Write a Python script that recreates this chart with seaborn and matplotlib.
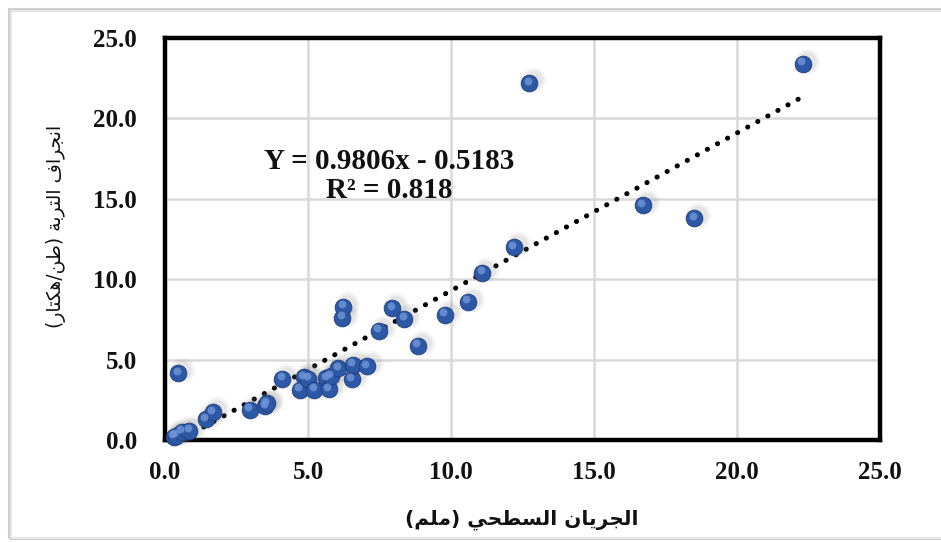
import matplotlib
matplotlib.use("Agg")
import matplotlib.pyplot as plt
import matplotlib.transforms as mtransforms
from matplotlib.patches import Rectangle
import seaborn as sns
import pandas as pd
import numpy as np

# ---------------- data ----------------
runoff = [0.30, 0.38, 0.58, 0.85, 1.43, 1.67, 2.97, 3.50, 3.55, 4.10,
          4.71, 4.86, 5.00, 5.21, 5.63, 5.73, 5.80, 6.06, 6.53, 6.56,
          7.06, 6.20, 6.24, 7.48, 7.95, 8.36, 8.83, 9.78, 10.58, 11.10,
          12.20, 12.73, 16.70, 18.50, 22.30, 0.47]
erosion = [0.20, 0.27, 0.52, 0.58, 1.29, 1.72, 1.87, 2.10, 2.30, 3.82,
           3.11, 3.90, 3.80, 3.11, 3.84, 3.15, 3.95, 4.46, 3.78, 4.67,
           4.60, 7.61, 8.30, 6.80, 8.19, 7.53, 5.85, 7.80, 8.61, 10.40,
           12.00, 22.20, 14.60, 13.80, 23.40, 4.15]
slope = 0.9806
intercept = -0.5183
r2 = 0.818
ticks = [0.0, 5.0, 10.0, 15.0, 20.0, 25.0]
xlabel_ar = "الجريان السطحي (ملم)"
ylabel_ar = "انجراف التربة (طن/هكتار)"
eq_text = "Y = 0.9806x - 0.5183\nR² = 0.818"

df = pd.DataFrame({"runoff": runoff, "erosion": erosion})

# ---------------- minimal Arabic shaping (presentation forms + visual order) ----------------
FORMS = {  # iso, fin, ini, med
    'ا': (0xFE8D, 0xFE8E, None, None),
    'ب': (0xFE8F, 0xFE90, 0xFE91, 0xFE92),
    'ة': (0xFE93, 0xFE94, None, None),
    'ت': (0xFE95, 0xFE96, 0xFE97, 0xFE98),
    'ج': (0xFE9D, 0xFE9E, 0xFE9F, 0xFEA0),
    'ح': (0xFEA1, 0xFEA2, 0xFEA3, 0xFEA4),
    'ر': (0xFEAD, 0xFEAE, None, None),
    'س': (0xFEB1, 0xFEB2, 0xFEB3, 0xFEB4),
    'ط': (0xFEC1, 0xFEC2, 0xFEC3, 0xFEC4),
    'ف': (0xFED1, 0xFED2, 0xFED3, 0xFED4),
    'ك': (0xFED9, 0xFEDA, 0xFEDB, 0xFEDC),
    'ل': (0xFEDD, 0xFEDE, 0xFEDF, 0xFEE0),
    'م': (0xFEE1, 0xFEE2, 0xFEE3, 0xFEE4),
    'ن': (0xFEE5, 0xFEE6, 0xFEE7, 0xFEE8),
    'ه': (0xFEE9, 0xFEEA, 0xFEEB, 0xFEEC),
    'ي': (0xFEF1, 0xFEF2, 0xFEF3, 0xFEF4),
}


def shape_ar(s):
    out = []
    n = len(s)
    for i, c in enumerate(s):
        if c not in FORMS:
            out.append(c)
            continue
        f = FORMS[c]
        prev = s[i - 1] if i > 0 else None
        nxt = s[i + 1] if i < n - 1 else None
        jp = prev in FORMS and FORMS[prev][2] is not None
        jn = nxt in FORMS and f[2] is not None
        if jp and jn:
            cp = f[3]
        elif jp:
            cp = f[1]
        elif jn:
            cp = f[2]
        else:
            cp = f[0]
        out.append(chr(cp))
    vis = ''.join(reversed(out))
    return vis.translate(str.maketrans({'(': ')', ')': '('}))


# ---------------- figure ----------------
sns.set_theme(style="white")
plt.rcParams['font.family'] = ['Liberation Serif', 'DejaVu Sans']

fig = plt.figure(figsize=(9.41, 5.42), dpi=100)
fig.patch.set_facecolor('white')
ax = fig.add_axes([165 / 941, 102 / 542, 715 / 941, 402 / 542])

# outer frame
fig.patches.append(Rectangle((9 / 941, 4 / 542), 1.2, 529 / 542, transform=fig.transFigure,
                             fill=False, edgecolor='#CFCFCF', linewidth=2.2, zorder=0))
fig.patches.append(Rectangle((11 / 941, 4 / 542), 1.2, 527 / 542, transform=fig.transFigure,
                             fill=False, edgecolor='#E6E6E6', linewidth=1.5, zorder=0))

ax.set_xlim(0, 25)
ax.set_ylim(0, 25)
ax.set_xticks(ticks)
ax.set_yticks(ticks)
ax.set_xticklabels([f"{t:.1f}" for t in ticks])
ax.set_yticklabels([f"{t:.1f}" for t in ticks])
ax.grid(True, color='#D9D9D9', linewidth=1.8)
ax.set_axisbelow(True)
for sp in ax.spines.values():
    sp.set_color('black')
    sp.set_linewidth(3.2)
ax.tick_params(axis='both', length=0, labelsize=18, colors='#111111')
ax.tick_params(axis='x', pad=15)
ax.tick_params(axis='y', pad=20)
for lbl in ax.get_xticklabels() + ax.get_yticklabels():
    lbl.set_fontweight('bold')
    lbl.set_family(['Liberation Serif'])

# trend line (dotted) from the fitted equation
xs = np.array([min(runoff), max(runoff)])
ax.plot(xs, slope * xs + intercept, color='black', linewidth=3.6,
        linestyle=(0, (0.05, 2.25)), dash_capstyle='round', solid_capstyle='round',
        zorder=2, clip_on=True)

# shadows (soft, offset up-right)
for k, (s, a) in enumerate([(350, 0.05), (255, 0.07), (180, 0.09)]):
    tr = mtransforms.offset_copy(ax.transData, fig=fig, x=4, y=3, units='dots')
    ax.scatter(runoff, erosion, s=s, color='#7F7F7F', alpha=a, linewidths=0,
               transform=tr, zorder=3, clip_on=False)

# main markers
sns.scatterplot(data=df, x="runoff", y="erosion", ax=ax, s=145, color='#2D58A6',
                edgecolor='#1F3F7A', linewidth=0.6, zorder=4, legend=False, clip_on=False)
# highlight
tr_h = mtransforms.offset_copy(ax.transData, fig=fig, x=-1.5, y=2.5, units='dots')
ax.scatter(runoff, erosion, s=32, color='#6F93D6', alpha=0.85, linewidths=0,
           transform=tr_h, zorder=5, clip_on=False)

ax.set_xlabel("")
ax.set_ylabel("")

# equation text
ax.text(389 / 941, (542 - 176) / 542, eq_text, transform=fig.transFigure,
        ha='center', va='center', fontsize=21, fontweight='bold',
        family=['Liberation Serif'], color='#111111', linespacing=1.05, zorder=6)

# axis titles (Arabic)
fig.text(522 / 941, (542 - 520) / 542, shape_ar(xlabel_ar), ha='center', va='center',
         fontsize=14.5, fontweight='bold', family=['DejaVu Sans'], color='#111111')
fig.text(56 / 941, (542 - 226) / 542, shape_ar(ylabel_ar), ha='center', va='center',
         rotation=90, fontsize=13.5, family=['DejaVu Sans'], color='#111111')

fig.savefig("out.png", dpi=100)
